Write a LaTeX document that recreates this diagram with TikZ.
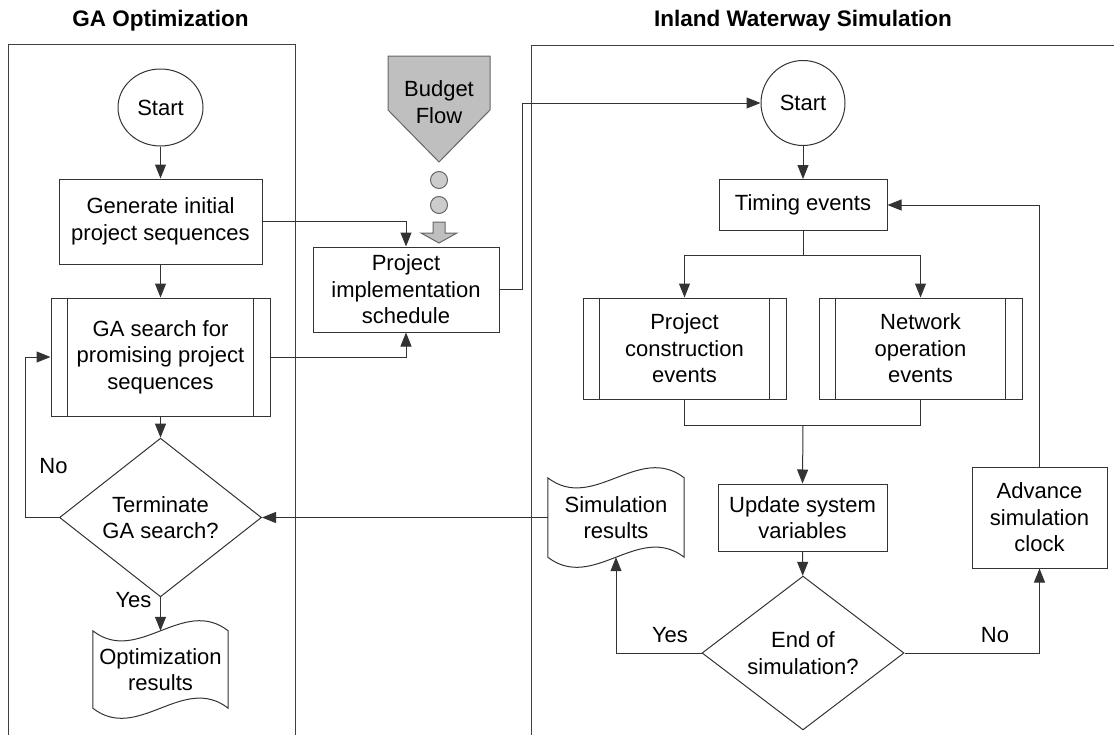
\documentclass[tikz,border=0pt]{standalone}
\usepackage{fontspec}
\setmainfont{Liberation Sans}
\usetikzlibrary{arrows.meta,shapes.geometric,calc}

% wavy "document" outline drawn around a named node
\newcommand\wavydoc[1]{%
  \draw[line] (#1.north west)
    .. controls ($(#1.north west)!0.333!(#1.north east)+(0,35)$)
       and ($(#1.north west)!0.667!(#1.north east)+(0,-35)$) .. (#1.north east)
    -- (#1.south east)
    .. controls ($(#1.south west)!0.667!(#1.south east)+(0,-35)$)
       and ($(#1.south west)!0.333!(#1.south east)+(0,35)$) .. (#1.south west)
    -- cycle;}
% side bars of a predefined-process box
\newcommand\sidebars[1]{%
  \draw[line] ([xshift=17pt]#1.north west) -- ([xshift=17pt]#1.south west);
  \draw[line] ([xshift=-17pt]#1.north east) -- ([xshift=-17pt]#1.south east);}

\begin{document}
\begin{tikzpicture}[x=1pt,y=-1pt,
  line/.style={draw=black!80, line width=1pt},
  lane/.style={draw=black!75, line width=1pt},
  arr/.style={line, -{Triangle[length=14pt,width=11pt]}},
  txt/.style={font=\fontsize{22}{26.4}\selectfont, align=center, inner sep=0pt},
  title/.style={font=\fontsize{22.5}{27}\selectfont\bfseries, inner sep=0pt, anchor=base},
  box/.style={txt, line, rectangle},
  terminal/.style={txt, line, ellipse},
  decision/.style={txt, line, diamond},
  doc/.style={txt, rectangle},
  graybox/.style={draw=black!60, fill=black!25, line width=1pt},
  dot/.style={circle, draw=black!60, fill=black!20, line width=1pt, minimum size=17pt, inner sep=0pt},
]
\useasboundingbox (0,0) rectangle (1114,734);

% swim lanes
\draw[lane] (8,735) -- (8,44) -- (295,44) -- (295,735);
\draw[lane] (531,735) -- (531,45) -- (1115,45);
\node[title] (tl) at (160.5,26) {GA Optimization};
\node[title] (tr) at (803,26) {Inland Waterway Simulation};

% GA optimization column
\node[terminal, minimum width=85pt, minimum height=77pt] (s1) at (160.5,107.5) {Start};
\node[box, minimum width=203pt, minimum height=85pt] (gen) at (160.5,221.5) {Generate initial\\project sequences};
\node[box, minimum width=219pt, minimum height=118pt] (gas) at (160.5,357) {GA search for\\promising project\\sequences};
\sidebars{gas}
\node[decision, minimum width=202pt, minimum height=135pt] (term) at (160.5,517.5) {Terminate\\GA search?};
\node[doc, minimum width=135pt, minimum height=77pt] (optres) at (160.5,669.5) {Optimization\\results};
\wavydoc{optres}
\node[txt] (noL) at (53.5,466) {No};
\node[txt] (yesL) at (133.5,600.5) {Yes};

\draw[arr] (s1) -- (gen);
\draw[arr] (gen) -- (gas);
\draw[arr] (gas) -- (term);
\draw[arr] (term) -- (optres);
\draw[arr] (term.west) -- ++(-34,0) |- (gas.west);

% budget flow
\draw[graybox] (388,56) -- (490,56) -- (490,110) -- (439,162) -- (388,110) -- cycle;
\node[txt] (budget) at (439,102) {Budget\\Flow};
\node[dot] (d1) at (439,180) {};
\node[dot] (d2) at (439,205) {};
\draw[graybox] (433,222) -- (445,222) -- (445,233) -- (457,233) -- (439,243)
  -- (421,233) -- (433,233) -- cycle;
\node[box, minimum width=186pt, minimum height=85pt] (pis) at (406,289.5) {Project\\implementation\\schedule};

\draw[arr] (gen.east) -| (pis.north);
\draw[arr] (gas.east) -| (pis.south);

% simulation column
\node[terminal, minimum width=84pt, minimum height=85pt] (s2) at (803,103) {Start};
\draw[arr] (pis.east) -- (522,289.5) |- (s2.west);
\node[box, minimum width=168pt, minimum height=51pt] (timing) at (803,205) {Timing events};
\node[box, minimum width=203pt, minimum height=101pt] (pce) at (684.5,348.5) {Project\\construction\\events};
\sidebars{pce}
\node[box, minimum width=203pt, minimum height=101pt] (noe) at (920.5,348.5) {Network\\operation\\events};
\sidebars{noe}
\node[box, minimum width=169pt, minimum height=67pt] (upd) at (802.5,517.5) {Update system\\variables};
\node[decision, minimum width=202pt, minimum height=134pt] (eos) at (803,653) {End of\\simulation?};
\node[doc, minimum width=136pt, minimum height=79pt] (simres) at (616,517.5) {Simulation\\results};
\wavydoc{simres}
\node[box, minimum width=135pt, minimum height=101pt] (adv) at (1039.5,517.5) {Advance\\simulation\\clock};
\node[txt] (yesR) at (670,635) {Yes};
\node[txt] (noR) at (995,635) {No};

\coordinate (split) at (803,255);
\coordinate (merge) at (803,425);
\draw[arr] (s2) -- (timing);
\draw[line] (timing.south) -- (split);
\draw[arr] (split) -| (pce.north);
\draw[arr] (split) -| (noe.north);
\draw[line] (pce.south) |- (merge);
\draw[line] (noe.south) |- (merge);
\draw[arr] (merge) -- (upd.north);
\draw[arr] (upd) -- (eos);
\draw[arr] (eos.west) -| (simres.south);
\draw[arr] (eos.east) -| (adv.south);
\draw[arr] (adv.north) |- (timing.east);
\draw[arr] (simres.west) -- (term.east);
\end{tikzpicture}
\end{document}
